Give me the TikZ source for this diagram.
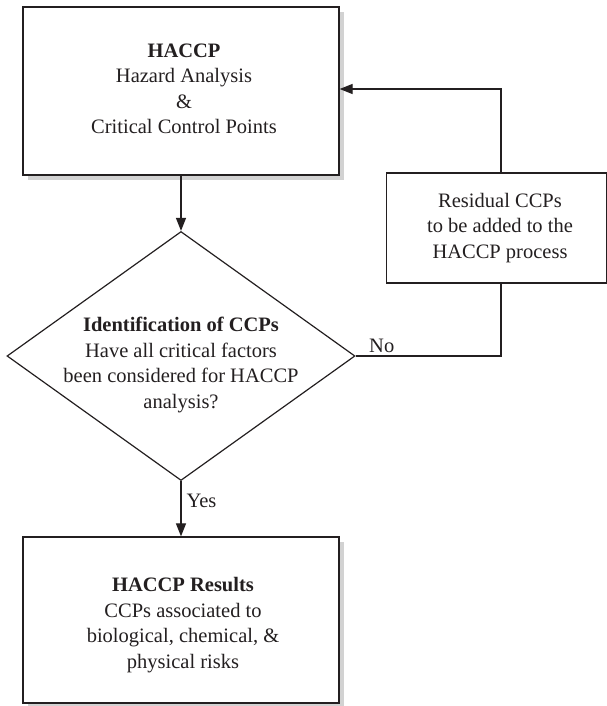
\documentclass[tikz,border=0pt]{standalone}
\usepackage{fontspec}
\setmainfont{Liberation Serif}
\usetikzlibrary{arrows.meta,shapes.geometric,shadows}
\definecolor{ink}{HTML}{231F20}
\definecolor{shade}{HTML}{D2D2D2}
\begin{document}
\begin{tikzpicture}[x=1pt,y=-1pt,
  line width=1.2pt, draw=ink, text=ink,
  every node/.style={font=\fontsize{20.5}{25.5}\selectfont, align=center, inner sep=0pt},
  procbox/.style={draw=ink, fill=white, rectangle, line width=1.3pt},
  shadowbox/.style={procbox, drop shadow={shadow xshift=5pt, shadow yshift=-5pt, fill=shade, opacity=1}},
  decision/.style={draw=ink, diamond, line width=1.2pt},
  arr/.style={-{Triangle[length=13pt,width=10pt]}, draw=ink, line width=1.2pt},
  flow/.style={draw=ink, line width=1.2pt}]
\useasboundingbox (0,0) rectangle (607,706);

% process boxes
\node[shadowbox, minimum width=316pt, minimum height=168pt] (top) at (181,91) {};
\node (toptext) at (184,89) {\textbf{HACCP}\\Hazard Analysis\\\&\\Critical Control Points};

\node[procbox, minimum width=220pt, minimum height=110pt] (res) at (496.5,228) {};
\node (restext) at (500,228) {Residual CCPs\\to be added to the\\HACCP process};

\node[shadowbox, minimum width=316pt, minimum height=166pt] (bot) at (181,620) {};
\node (bottext) at (183,625) {\textbf{HACCP Results}\\CCPs associated to\\biological, chemical, \&\\physical risks};

% decision
\node[decision, minimum width=348pt, minimum height=249pt] (dia) at (181,356) {};
\node (diatext) at (181,365) {\textbf{Identification of CCPs}\\Have all critical factors\\been considered for HACCP\\analysis?};

% connectors
\draw[arr] (top.south) -- (dia.north);
\draw[arr] (dia.south) -- node[right=5pt, pos=0.35] (yes) {Yes} (bot.north);
\draw[flow] (dia.east) -| node[pos=0.09, above=3pt] (no) {No} ([xshift=4.5pt]res.south);
\draw[arr] ([xshift=4.5pt]res.north) |- ([yshift=2pt]top.east);
\end{tikzpicture}
\end{document}
